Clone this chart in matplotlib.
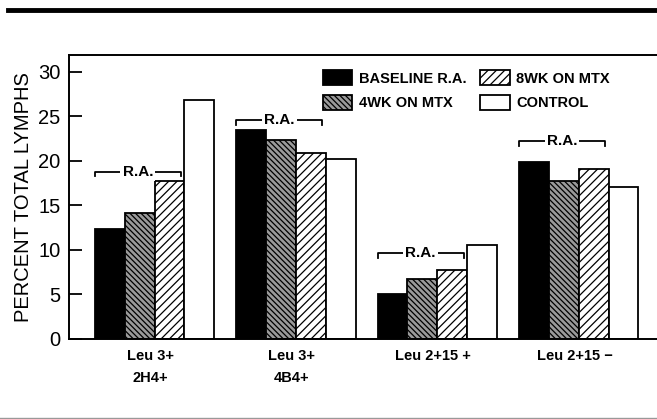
import matplotlib.pyplot as plt
import numpy as np
from matplotlib.patches import Patch
from matplotlib.lines import Line2D

plt.rcParams['font.family'] = ['Liberation Sans', 'DejaVu Sans']
plt.rcParams['hatch.linewidth'] = 0.9

# Data
groups = ['Leu 3+\n2H4+', 'Leu 3+\n4B4+', 'Leu 2+15 +', 'Leu 2+15 \u2212']
series = ['BASELINE R.A.', '4WK ON MTX', '8WK ON MTX', 'CONTROL']
baseline = [12.3, 23.5, 5.1, 19.9]
wk4 = [14.2, 22.3, 6.7, 17.7]
wk8 = [17.7, 20.9, 7.7, 19.1]
control = [26.8, 20.2, 10.6, 17.1]
ra_levels = [18.8, 24.6, 9.6, 22.2]

values = [baseline, wk4, wk8, control]
faces = ['black', '#9a9a9a', 'white', 'white']
hatches = [None, '\\\\\\\\\\\\', '////', None]

fig = plt.figure(figsize=(6.57, 4.19), dpi=100)
ax = fig.add_axes([0.105, 0.191, 0.905, 0.678])

x = np.arange(len(groups))
w = 0.211
for i, vals in enumerate(values):
    ax.bar(x + (i - 1.5) * w, vals, w, color=faces[i], edgecolor='black',
           hatch=hatches[i], linewidth=1.3, label=series[i])

# R.A. brackets over the three patient bars
for xi, lev in zip(x, ra_levels):
    x0 = xi - 2 * w
    x1 = xi + 0.88 * w
    ax.plot([x0, x0, x1, x1], [lev - 0.55, lev, lev, lev - 0.55], color='black', lw=1.3)
    ax.text((x0 + x1) / 2, lev, 'R.A.', ha='center', va='center', fontsize=11,
            fontweight='bold', bbox=dict(facecolor='white', edgecolor='none', pad=1.5))

ax.set_xlim(-0.605, 3.6)
ax.set_ylim(0, 31.9)
ax.set_yticks([0, 5, 10, 15, 20, 25, 30])
ax.tick_params(axis='y', labelsize=14.5, length=9, width=1.3, direction='in', pad=6)
ax.set_xticks(x - 0.03)
ax.set_xticklabels(groups, fontsize=10.5, fontweight='bold', linespacing=1.8)
ax.tick_params(axis='x', length=0, pad=7)
ax.set_ylabel('PERCENT TOTAL LYMPHS', fontsize=14.5, labelpad=4)
for s in ['left', 'top', 'bottom']:
    ax.spines[s].set_linewidth(1.4)
ax.spines['right'].set_visible(False)

handles = [Patch(facecolor=faces[i], edgecolor='black', hatch=hatches[i], linewidth=1.3)
           for i in range(4)]
ax.legend(handles, series, ncol=2,
          loc='upper left', bbox_to_anchor=(0.491, 0.833), bbox_transform=fig.transFigure,
          frameon=False, prop=dict(size=10.5, weight='bold'), handlelength=2.05,
          handleheight=1.25, labelspacing=0.62, columnspacing=0.9, handletextpad=0.45,
          borderpad=0, borderaxespad=0)

# page rules above and below
fig.add_artist(Line2D([0.012, 1.0], [0.976, 0.976], color='black', lw=3.5))
fig.add_artist(Line2D([0.0, 1.0], [0.003, 0.003], color='#999999', lw=1.0))

fig.savefig('out.png', dpi=100)
